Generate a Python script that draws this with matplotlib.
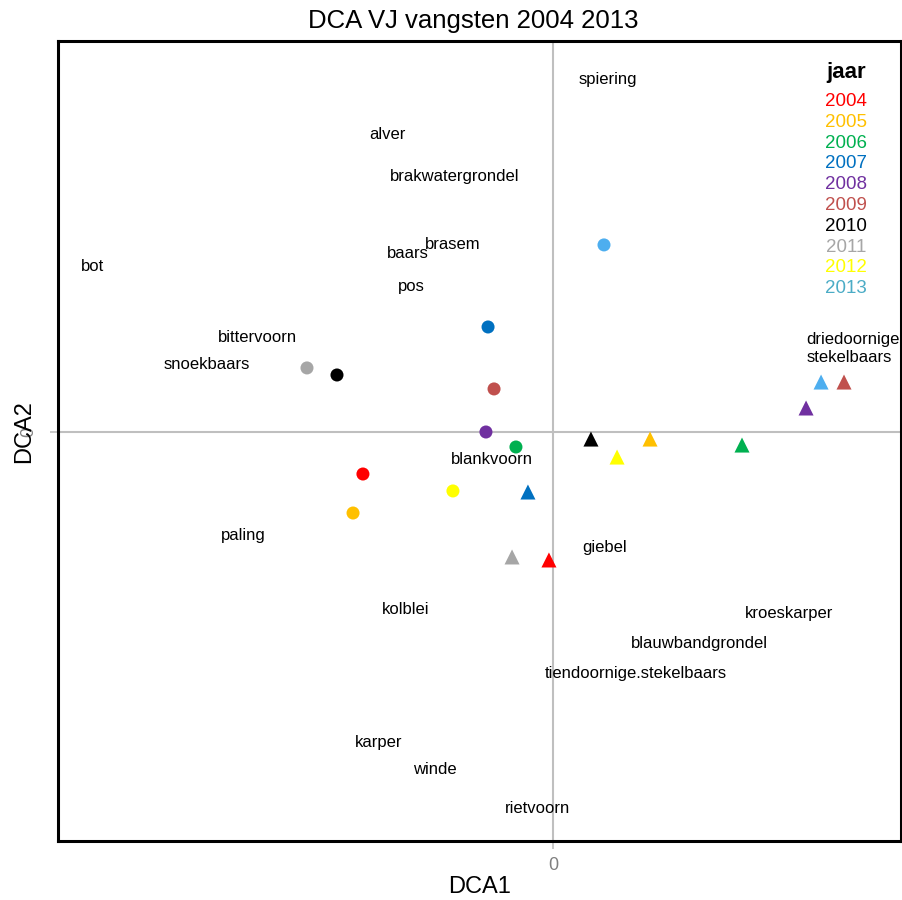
import matplotlib
matplotlib.use("Agg")
import matplotlib.pyplot as plt

plt.rcParams['font.family'] = ['Liberation Sans', 'DejaVu Sans']

# --- data: DCA scores
years = ["2004", "2005", "2006", "2007", "2008", "2009", "2010", "2011", "2012", "2013"]
year_colors = ["#FF0000", "#FFC000", "#00B050", "#0070C0", "#7030A0",
               "#C0504D", "#000000", "#A6A6A6", "#FFFF00", "#4DAEEF"]
legend_colors = ["#FF0000", "#FFC000", "#00B050", "#0070C0", "#7030A0",
                 "#C0504D", "#000000", "#A6A6A6", "#FFFF00", "#4BACC6"]

# sites type 1 (circles)
circ_x = [-1.267, -1.333, -0.247, -0.433, -0.447, -0.393, -1.440, -1.640, -0.667, 0.340]
circ_y = [-0.280, -0.540, -0.100, 0.700, 0.000, 0.287, 0.380, 0.427, -0.393, 1.247]

# sites type 2 (triangles)
tri_x = [-0.027, 0.647, 1.260, -0.167, 1.687, 1.940, 0.253, -0.273, 0.427, 1.787]
tri_y = [-0.853, -0.047, -0.087, -0.400, 0.160, 0.333, -0.047, -0.833, -0.167, 0.333]

# species scores
species = ["spiering", "alver", "brakwatergrondel", "brasem", "baars", "bot", "pos",
           "bittervoorn", "snoekbaars", "driedoornige\nstekelbaars", "blankvoorn",
           "paling", "giebel", "kolblei", "kroeskarper", "blauwbandgrondel",
           "tiendoornige.stekelbaars", "karper", "winde", "rietvoorn"]
sp_x = [0.363, -1.103, -0.653, -0.667, -0.967, -3.070, -0.947, -1.973, -2.307, 2.000,
        -0.410, -2.067, 0.347, -0.980, 1.573, 0.973, 0.553, -1.160, -0.787, -0.103]
sp_y = [2.347, 1.980, 1.700, 1.253, 1.193, 1.100, 0.973, 0.633, 0.453, 0.557,
        -0.180, -0.693, -0.773, -1.180, -1.207, -1.413, -1.607, -2.067, -2.247, -2.507]

grey = "#BFBFBF"

fig = plt.figure(figsize=(9.03, 9.0), dpi=100)
ax = fig.add_axes([0.0637, 0.0661, 0.9341, 0.8878])

ax.axhline(0, color=grey, lw=1.5, zorder=1)
ax.axvline(0, color=grey, lw=1.5, zorder=1)

ax.scatter(circ_x, circ_y, s=88, c=year_colors, marker="o", linewidths=0, zorder=3)
ax.scatter(tri_x, tri_y, s=117, c=year_colors, marker="^", linewidths=0, zorder=3)

for name, x, y in zip(species, sp_x, sp_y):
    ax.text(x, y, name, fontsize=12, ha="center", va="center",
            multialignment="left", clip_on=True, zorder=4)

ax.set_xlim(-3.303, 2.32)
ax.set_ylim(-2.723, 2.603)
ax.set_xticks([0])
ax.set_yticks([0])
ax.tick_params(axis="both", colors=grey, length=5.5, width=1.2, labelsize=13,
               labelcolor="#808080")
ax.tick_params(axis="x", pad=6.5)
ax.tick_params(axis="y", pad=9)
for lab in ax.get_yticklabels():
    lab.set_rotation(90)
    lab.set_va("center")

for sp in ax.spines.values():
    sp.set_linewidth(2.2)
    sp.set_color("black")

# legend as coloured text
ax.text(0.935, 0.9606, "jaar", transform=ax.transAxes, fontsize=16,
        fontweight="bold", ha="center", va="center")
for i, (yr, col) in enumerate(zip(years, legend_colors)):
    ax.text(0.935, 0.9247 - i * 0.026, yr, transform=ax.transAxes,
            fontsize=13.5, color=col, ha="center", va="center")

fig.text(473 / 903, 1 - 21 / 900, "DCA VJ vangsten 2004 2013", fontsize=18.5,
         ha="center", va="center")
fig.text(480 / 903, 1 - 887 / 900, "DCA1", fontsize=17, ha="center", va="center")
fig.text(24 / 903, 1 - 432 / 900, "DCA2", fontsize=17, ha="center", va="center",
         rotation=90)

fig.savefig("out.png", dpi=100)
